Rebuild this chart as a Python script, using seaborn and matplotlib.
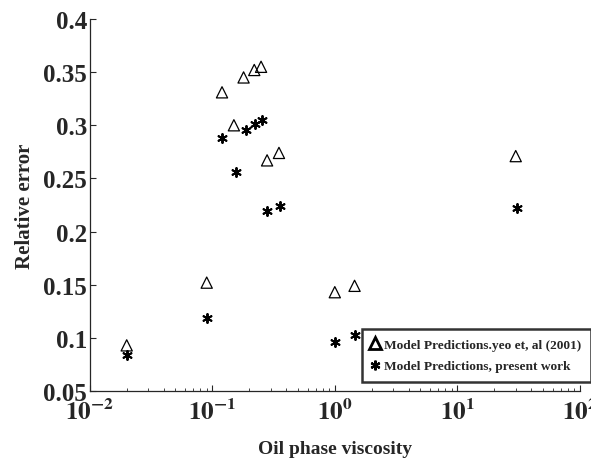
import math
import pandas as pd
import seaborn as sns
import matplotlib.pyplot as plt
import matplotlib.ticker as ticker
from matplotlib.lines import Line2D

# Oil phase viscosity vs relative error
yeo_visc = [0.02, 0.09, 0.12, 0.15, 0.18, 0.22, 0.25, 0.28, 0.35, 1.0, 1.45, 30]
yeo_err = [0.093, 0.152, 0.331, 0.300, 0.345, 0.352, 0.355, 0.267, 0.274, 0.143, 0.149, 0.271]

present_visc = [0.02, 0.09, 0.12, 0.155, 0.19, 0.225, 0.255, 0.28, 0.355, 1.0, 1.46, 31]
present_err = [0.084, 0.119, 0.288, 0.256, 0.296, 0.301, 0.305, 0.219, 0.224, 0.096, 0.103, 0.222]

y_ticks = [0.05, 0.1, 0.15, 0.2, 0.25, 0.3, 0.35, 0.4]
legend_labels = ['Model Predictions.yeo et, al (2001)', 'Model Predictions, present work']

sns.set_style("ticks")
plt.rcParams['font.family'] = ['Liberation Serif', 'DejaVu Serif']
plt.rcParams['font.weight'] = 'bold'
plt.rcParams['mathtext.fontset'] = 'stix'

df_yeo = pd.DataFrame({'visc': yeo_visc, 'err': yeo_err})
df_present = pd.DataFrame({'visc': present_visc, 'err': present_err})

fig = plt.figure(figsize=(5.91, 4.64), dpi=100)
ax = fig.add_axes([0.152, 0.155, 0.829, 0.802])

sns.scatterplot(data=df_yeo, x='visc', y='err', marker='^', s=65,
                facecolors='none', edgecolor='black', linewidth=0.9, ax=ax)
sns.scatterplot(data=df_present, x='visc', y='err', marker=(6, 2, 0), s=42,
                color='black', edgecolor='black', linewidth=1.4, ax=ax)

ax.set_xscale('log')
ax.set_xlim(0.01, 100)
ax.set_ylim(0.05, 0.4)
ax.set_yticks(y_ticks)
ax.yaxis.set_major_formatter(ticker.FuncFormatter(lambda v, p: '%g' % v))
ax.xaxis.set_major_formatter(ticker.FuncFormatter(
    lambda v, p: r'$\mathbf{10^{%d}}$' % round(math.log10(v))))
ax.xaxis.set_minor_locator(ticker.LogLocator(base=10, subs=range(2, 10), numticks=20))
ax.xaxis.set_minor_formatter(ticker.NullFormatter())

ax.tick_params(axis='both', which='major', direction='in', length=4, width=0.8,
               labelsize=18)
ax.tick_params(axis='y', which='major', pad=2)
ax.tick_params(axis='x', which='major', pad=5)
ax.tick_params(axis='x', which='minor', direction='in', length=2.5, width=0.6)
for lab in ax.get_yticklabels():
    lab.set_fontweight('bold')

for side in ['top', 'right']:
    ax.spines[side].set_visible(False)
for side in ['left', 'bottom']:
    ax.spines[side].set_linewidth(0.9)

ax.set_xlabel('Oil phase viscosity', fontsize=14, fontweight='bold', labelpad=12)
ax.set_ylabel('Relative error', fontsize=15, fontweight='bold', labelpad=6)

handles = [
    Line2D([], [], linestyle='none', marker='^', markersize=8, markerfacecolor='none',
           markeredgecolor='black', markeredgewidth=2.0),
    Line2D([], [], linestyle='none', marker=(6, 2, 0), markersize=7,
           color='black', markeredgewidth=1.6),
]
leg = ax.legend(handles, legend_labels, loc='lower right', bbox_to_anchor=(1.0, 0.175),
                bbox_transform=fig.transFigure, frameon=True, fancybox=False,
                prop={'family': 'Liberation Serif', 'weight': 'bold', 'size': 9.6},
                handlelength=0.6, handletextpad=0.4, borderpad=0.7, labelspacing=0.7,
                borderaxespad=0)
leg.get_frame().set_edgecolor('black')
leg.get_frame().set_linewidth(1.8)

plt.savefig('out.png', dpi=100)
